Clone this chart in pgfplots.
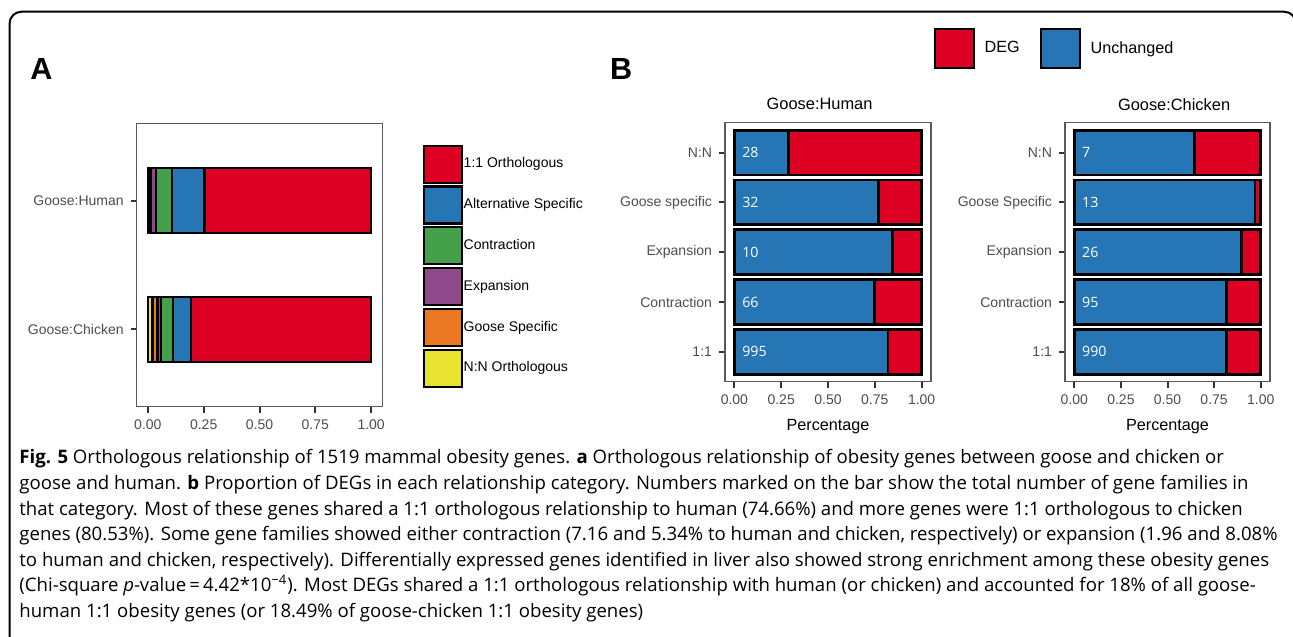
\documentclass[border=0pt]{standalone}
\usepackage{fontspec}
\setmainfont{Liberation Sans}
\newfontfamily\capfont{Open Sans}
\newfontfamily\numfont{Open Sans}
\usepackage{pgfplots}
\pgfplotsset{compat=1.18}
\definecolor{cRed}{HTML}{DE0023}
\definecolor{cBlue}{HTML}{2675B5}
\definecolor{cGreen}{HTML}{44A04A}
\definecolor{cPurple}{HTML}{8E4A8A}
\definecolor{cOrange}{HTML}{EB7823}
\definecolor{cYellow}{HTML}{E8E331}
\definecolor{axgray}{HTML}{5A5A5A}
\definecolor{labgray}{HTML}{4D4D4D}
\definecolor{tickc}{HTML}{333333}
\pgfplotsset{
  common/.style={
    scale only axis,
    tick align=outside, xtick pos=bottom, ytick pos=left,
    major tick length=3pt,
    axis line style={draw=axgray, line width=0.75pt},
    every tick/.style={draw=tickc, line width=1pt},
    tick label style={font=\fontsize{7}{8}\selectfont, text=labgray},
    /pgf/number format/assume math mode=true,
    xmin=-0.05, xmax=1.05,
    xtick={0,0.25,0.5,0.75,1},
    xticklabels={0.00,0.25,0.50,0.75,1.00},
    clip=false,
  }
}
\begin{document}
\begin{tikzpicture}
\path[use as bounding box] (0pt,0pt) rectangle (646.5pt,318pt);
\begin{scope}
\clip (0pt,0pt) rectangle (646.5pt,318pt);
\draw[line width=1pt, rounded corners=6pt] (4.75pt,-5pt) -- (4.75pt,312.15pt) -- (648pt,312.15pt) -- (648pt,-5pt);
\end{scope}
\node[anchor=base west, inner sep=0pt, font=\fontsize{15.3}{16}\selectfont\bfseries] at (15pt,278pt) {A};
\node[anchor=base west, inner sep=0pt, font=\fontsize{15.3}{16}\selectfont\bfseries] at (304.85pt,278pt) {B};

% Panel A
\begin{axis}[common,
  width=122.8pt, height=141.7pt,
  at={(68.35pt,114.65pt)}, anchor=south west,
  xbar stacked, bar width=0.5,
  ymin=0.4, ymax=2.6,
  ytick={1,2}, yticklabels={Goose:Chicken,Goose:Human},
  reverse legend,
  legend cell align=left,
  legend style={at={(1.163,0.926)}, anchor=north west, draw=none, fill=none,
    inner sep=0pt, row sep=0.8pt, font=\fontsize{7}{8}\selectfont,
    nodes={inner sep=0.4pt}},
  legend image code/.code={\draw[#1, draw=black, line width=1.1pt] (0pt,-9.25pt) rectangle (19pt,9.25pt);},
]
\addplot[fill=cYellow, draw=black, line width=1.1pt] coordinates {(0.021,1) (0.005,2)};
\addplot[fill=cOrange, draw=black, line width=1.1pt] coordinates {(0.022,1) (0.0108,2)};
\addplot[fill=cPurple, draw=black, line width=1.1pt] coordinates {(0.0147,1) (0.0196,2)};
\addplot[fill=cGreen, draw=black, line width=1.1pt] coordinates {(0.0534,1) (0.0716,2)};
\addplot[fill=cBlue, draw=black, line width=1.1pt] coordinates {(0.0836,1) (0.1464,2)};
\addplot[fill=cRed, draw=black, line width=1.1pt] coordinates {(0.8053,1) (0.7466,2)};
\legend{N:N Orthologous,Goose Specific,Expansion,Contraction,Alternative Specific,1:1 Orthologous}
\end{axis}

% Panel B: Goose:Human
\begin{axis}[common,
  width=103pt, height=129.5pt,
  at={(362.5pt,127.15pt)}, anchor=south west,
  ymin=0.4, ymax=5.6,
  ytick={1,2,3,4,5}, yticklabels={1:1,Contraction,Expansion,Goose specific,N:N},
  title={Goose:Human},
  every axis title/.style={at={(0.459,1.071)}, anchor=center, inner sep=0pt, font=\fontsize{8.2}{9}\selectfont},
  xlabel={Percentage},
  xlabel style={at={(0.5,-0.175)}, anchor=center, inner sep=0pt, font=\fontsize{8.1}{9}\selectfont},
  legend columns=2,
  legend style={at={(1.011,1.367)}, anchor=north west, draw=none, fill=none,
    inner sep=0pt, font=\fontsize{8.1}{9}\selectfont, nodes={inner sep=0pt},
    /tikz/every even column/.append style={column sep=10pt}},
  legend image code/.code={\draw[#1, draw=black, line width=1.1pt] (0pt,-9.75pt) rectangle (19.7pt,9.75pt); \path (24.2pt,0pt);},
]
\addplot[xbar, bar shift=0pt, bar width=0.9, fill=cRed, draw=black, line width=1.4pt]
  coordinates {(1,1) (1,2) (1,3) (1,4) (1,5)};
\addplot[xbar, bar shift=0pt, bar width=0.9, fill=cBlue, draw=black, line width=1.4pt]
  coordinates {(0.82,1) (0.748,2) (0.846,3) (0.77,4) (0.287,5)};
\addplot[only marks, mark=none, forget plot, nodes near coords, point meta=explicit symbolic,
  every node near coord/.style={anchor=west, text=white, inner sep=0pt, font=\numfont\fontsize{7.1}{8}\selectfont}]
  coordinates {(0.04,1) [995] (0.04,2) [66] (0.04,3) [10] (0.04,4) [32] (0.04,5) [28]};
\legend{DEG,Unchanged}
\end{axis}

% Panel B: Goose:Chicken
\begin{axis}[common,
  width=102.5pt, height=129.5pt,
  at={(532.5pt,127.15pt)}, anchor=south west,
  ymin=0.4, ymax=5.6,
  ytick={1,2,3,4,5}, yticklabels={1:1,Contraction,Expansion,Goose Specific,N:N},
  title={Goose:Chicken},
  every axis title/.style={at={(0.532,1.071)}, anchor=center, inner sep=0pt, font=\fontsize{8.2}{9}\selectfont},
  xlabel={Percentage},
  xlabel style={at={(0.5,-0.175)}, anchor=center, inner sep=0pt, font=\fontsize{8.1}{9}\selectfont},
]
\addplot[xbar, bar shift=0pt, bar width=0.9, fill=cRed, draw=black, line width=1.4pt]
  coordinates {(1,1) (1,2) (1,3) (1,4) (1,5)};
\addplot[xbar, bar shift=0pt, bar width=0.9, fill=cBlue, draw=black, line width=1.4pt]
  coordinates {(0.815,1) (0.818,2) (0.899,3) (0.969,4) (0.644,5)};
\addplot[only marks, mark=none, forget plot, nodes near coords, point meta=explicit symbolic,
  every node near coord/.style={anchor=west, text=white, inner sep=0pt, font=\numfont\fontsize{7.1}{8}\selectfont}]
  coordinates {(0.04,1) [990] (0.04,2) [95] (0.04,3) [26] (0.04,4) [13] (0.04,5) [7]};
\end{axis}

% Caption
\node[anchor=base west, inner sep=0pt] at (9.5pt,86pt) {\capfont\fontsize{9.3}{12.8}\selectfont
\begin{tabular}[t]{@{}l@{}}
\textbf{Fig. 5} Orthologous relationship of 1519 mammal obesity genes. \textbf{a} Orthologous relationship of obesity genes between goose and chicken or\\
goose and human. \textbf{b} Proportion of DEGs in each relationship category. Numbers marked on the bar show the total number of gene families in\\
that category. Most of these genes shared a 1:1 orthologous relationship to human (74.66\%) and more genes were 1:1 orthologous to chicken\\
genes (80.53\%). Some gene families showed either contraction (7.16 and 5.34\% to human and chicken, respectively) or expansion (1.96 and 8.08\%\\
to human and chicken, respectively). Differentially expressed genes identified in liver also showed strong enrichment among these obesity genes\\
(Chi-square \textit{p}-value\,=\,4.42*10\textsuperscript{−4}). Most DEGs shared a 1:1 orthologous relationship with human (or chicken) and accounted for 18\% of all goose-\\
human 1:1 obesity genes (or 18.49\% of goose-chicken 1:1 obesity genes)
\end{tabular}};
\end{tikzpicture}
\end{document}
